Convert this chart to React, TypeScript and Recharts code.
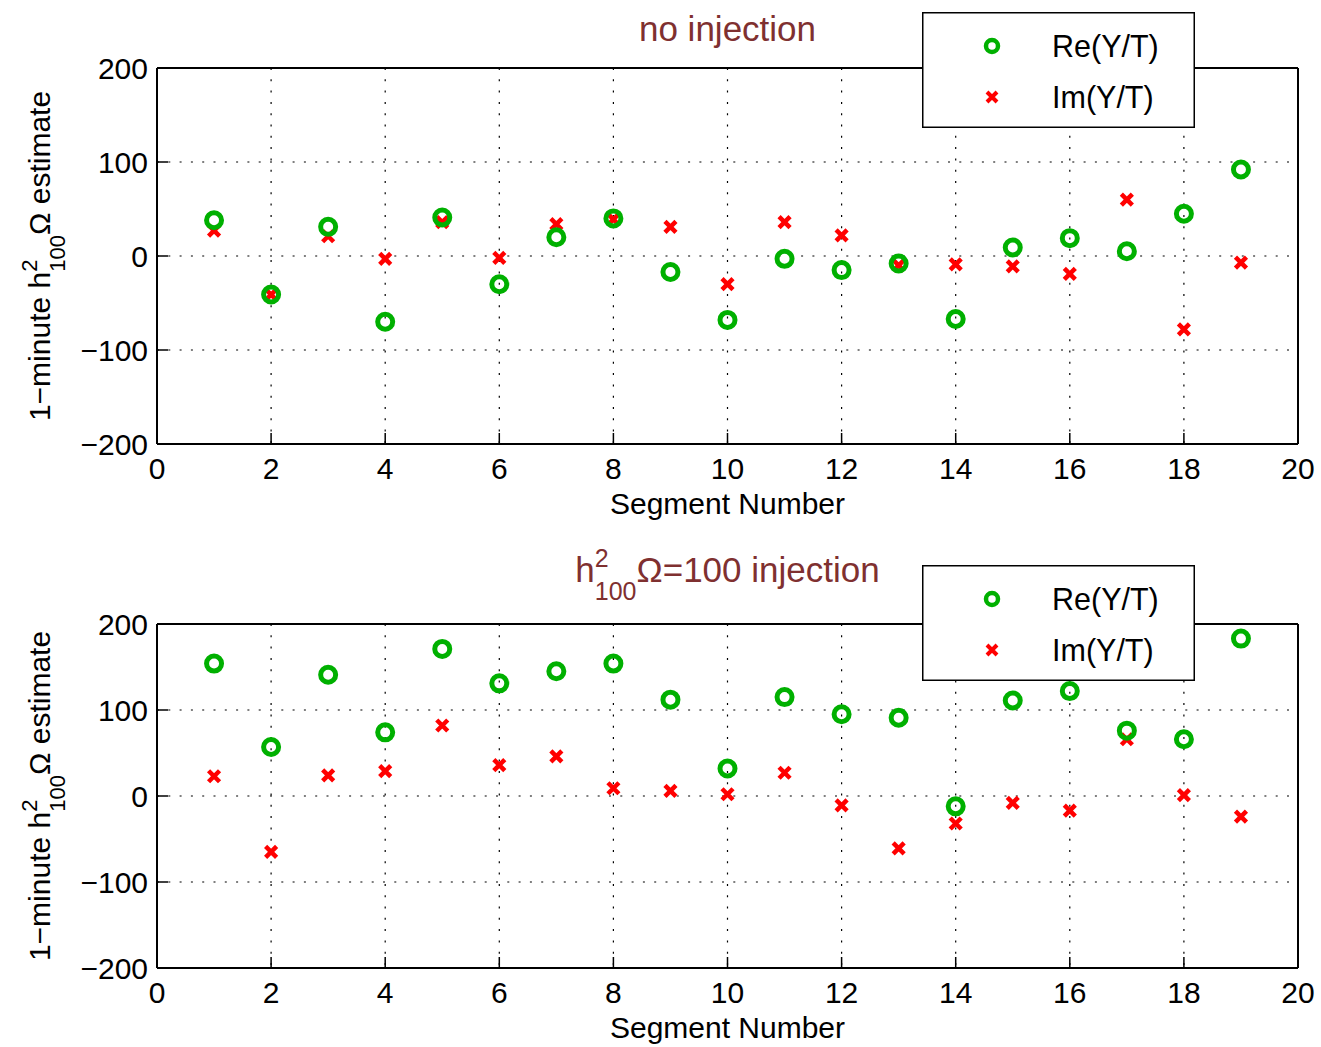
import React from 'react';
import { ScatterChart, Scatter, XAxis, YAxis, CartesianGrid, Legend, Label } from 'recharts';

// segment numbers on the x axis
const SEGMENTS = [1, 2, 3, 4, 5, 6, 7, 8, 9, 10, 11, 12, 13, 14, 15, 16, 17, 18, 19];

// top panel: no injection
const RE_NO_INJ = [38, -41, 31, -70, 41, -30, 20, 40, -17, -68, -3, -15, -8, -67, 9, 19, 5, 45, 92];
const IM_NO_INJ = [27, -41, 21, -3, 36, -2, 34, 39, 31, -30, 36, 22, -10, -9, -11, -19, 60, -78, -7];

// bottom panel: h2 Omega = 100 injection
const RE_INJ = [154, 57, 141, 74, 171, 131, 145, 154, 112, 32, 115, 95, 91, -12, 111, 122, 76, 66, 183];
const IM_INJ = [23, -65, 24, 29, 82, 36, 46, 9, 6, 2, 27, -11, -61, -32, -8, -17, 66, 1, -24];

const X_TICKS = [0, 2, 4, 6, 8, 10, 12, 14, 16, 18, 20];
const Y_TICKS = [-200, -100, 0, 100, 200];
const LEGEND_LABELS = ['Re(Y/T)', 'Im(Y/T)'];

const GREEN = '#00b000';
const RED = '#ff0000';
const TITLE_COLOR = '#7f3030';
const FONT = '"Liberation Sans", Arial, Helvetica, sans-serif';

const toPoints = (ys: number[]) => SEGMENTS.map((x, i) => ({ x, y: ys[i] }));
const fmt = (v: number) => (v < 0 ? `\u2212${Math.abs(v)}` : `${v}`);

function Ring({ cx, cy, r = 7.5, w = 5 }: any) {
  return <circle cx={cx} cy={cy} r={r} fill="none" stroke={GREEN} strokeWidth={w} />;
}

function Cross({ cx, cy, s = 5.5, w = 4.5 }: any) {
  return (
    <path
      d={`M${cx - s},${cy - s}L${cx + s},${cy + s}M${cx - s},${cy + s}L${cx + s},${cy - s}`}
      stroke={RED}
      strokeWidth={w}
      fill="none"
    />
  );
}

function MatlabLegend() {
  return (
    <svg width={273} height={116} style={{ display: 'block' }}>
      <rect x={0.75} y={0.75} width={271.5} height={114.5} fill="#fff" stroke="#000" strokeWidth={1.5} />
      <Ring cx={70} cy={34} r={6} w={4.5} />
      <text x={130} y={45} fontSize={30.5} fontFamily={FONT} fill="#000">{LEGEND_LABELS[0]}</text>
      <Cross cx={70} cy={85} s={5} w={4} />
      <text x={130} y={96} fontSize={30.5} fontFamily={FONT} fill="#000">{LEGEND_LABELS[1]}</text>
    </svg>
  );
}

function YTitle(props: any) {
  const { viewBox } = props;
  const cx = viewBox.x + 50;
  const cy = viewBox.y + viewBox.height / 2;
  return (
    <text
      x={cx}
      y={cy}
      transform={`rotate(-90 ${cx} ${cy})`}
      textAnchor="middle"
      fontSize={30}
      fontFamily={FONT}
      fill="#000"
    >
      <tspan>1{'\u2212'}minute h</tspan>
      <tspan fontSize={22} dy={-13}>2</tspan>
      <tspan fontSize={22} dx={-12.2} dy={28}>100</tspan>
      <tspan dy={-15}>{'\u03a9'} estimate</tspan>
    </text>
  );
}

function TopTitle(props: any) {
  const { viewBox } = props;
  return (
    <text
      x={viewBox.x + viewBox.width / 2}
      y={viewBox.y + viewBox.height - 27}
      textAnchor="middle"
      fontSize={35}
      fontFamily={FONT}
      fill={TITLE_COLOR}
    >
      no injection
    </text>
  );
}

function BottomTitle(props: any) {
  const { viewBox } = props;
  return (
    <text
      x={viewBox.x + viewBox.width / 2}
      y={viewBox.y + viewBox.height - 42}
      textAnchor="middle"
      fontSize={35}
      fontFamily={FONT}
      fill={TITLE_COLOR}
    >
      <tspan>h</tspan>
      <tspan fontSize={25} dy={-15}>2</tspan>
      <tspan fontSize={25} dx={-13.9} dy={33}>100</tspan>
      <tspan dy={-18}>{'\u03a9'}=100 injection</tspan>
    </text>
  );
}

function Panel({ height, top, xHeight, labelOffset, re, im, Title, legendTop }: any) {
  const tickStyle = { fontSize: 30, fill: '#000', fontFamily: FONT };
  const box = { stroke: '#000', strokeWidth: 2 };
  const tl = { stroke: '#000', strokeWidth: 1.5 };
  return (
    <ScatterChart width={1321} height={height} margin={{ top: top - 1, right: 22, bottom: 0, left: 0 }}>
      <CartesianGrid stroke="#000" strokeWidth={1.2} strokeDasharray="2 9.3" />
      <XAxis
        type="number"
        dataKey="x"
        domain={[0, 20]}
        ticks={X_TICKS}
        interval={0}
        allowDataOverflow
        height={xHeight}
        tickSize={-11}
        tickMargin={25}
        tick={tickStyle}
        axisLine={box}
        tickLine={tl}
      >
        <Label value="Segment Number" position="insideBottom" offset={labelOffset} fontSize={30} fill="#000" fontFamily={FONT} />
      </XAxis>
      <XAxis
        xAxisId="top"
        orientation="top"
        type="number"
        domain={[0, 20]}
        ticks={X_TICKS}
        interval={0}
        allowDataOverflow
        height={1}
        tickSize={-11}
        tick={false}
        axisLine={box}
        tickLine={tl}
      >
        <Label content={<Title />} />
      </XAxis>
      <YAxis
        type="number"
        dataKey="y"
        domain={[-200, 200]}
        ticks={Y_TICKS}
        interval={0}
        allowDataOverflow
        width={157}
        tickSize={-11}
        tickMargin={20}
        tick={tickStyle}
        tickFormatter={fmt}
        axisLine={box}
        tickLine={tl}
      >
        <Label content={<YTitle />} />
      </YAxis>
      <YAxis
        yAxisId="right"
        orientation="right"
        type="number"
        domain={[-200, 200]}
        ticks={Y_TICKS}
        interval={0}
        allowDataOverflow
        width={1}
        tickSize={-11}
        tick={false}
        axisLine={box}
        tickLine={tl}
      />
      <Scatter
        name={LEGEND_LABELS[1]}
        data={toPoints(im)}
        isAnimationActive={false}
        shape={(p: any) => <Cross cx={p.cx} cy={p.cy} />}
      />
      <Scatter
        name={LEGEND_LABELS[0]}
        data={toPoints(re)}
        isAnimationActive={false}
        shape={(p: any) => <Ring cx={p.cx} cy={p.cy} />}
      />
      <Legend
        layout="horizontal"
        verticalAlign="middle"
        align="center"
        wrapperStyle={{ left: 922, top: legendTop, width: 273, height: 116 }}
        content={() => <MatlabLegend />}
      />
    </ScatterChart>
  );
}

export default function App() {
  return (
    <div
      style={{
        position: 'absolute',
        left: 0,
        top: 0,
        width: 1321,
        height: 1047,
        background: '#fff',
        fontFamily: FONT,
      }}
    >
      <Panel height={520} top={68} xHeight={76} labelOffset={6} re={RE_NO_INJ} im={IM_NO_INJ} Title={TopTitle} legendTop={12} />
      <Panel height={527} top={104} xHeight={79} labelOffset={9} re={RE_INJ} im={IM_INJ} Title={BottomTitle} legendTop={45} />
    </div>
  );
}
